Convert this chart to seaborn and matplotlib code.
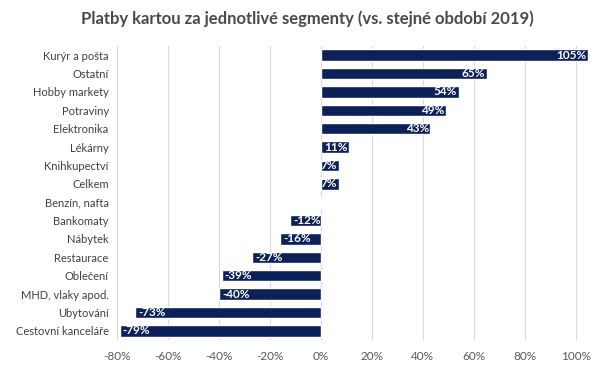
import matplotlib
matplotlib.use("Agg")
import matplotlib.pyplot as plt
import seaborn as sns
import pandas as pd
from matplotlib.ticker import FuncFormatter

categories = ["Kurýr a pošta", "Ostatní", "Hobby markety", "Potraviny", "Elektronika",
              "Lékárny", "Knihkupectví", "Celkem", "Benzín, nafta", "Bankomaty",
              "Nábytek", "Restaurace", "Oblečení", "MHD, vlaky apod.", "Ubytování",
              "Cestovní kanceláře"]
values = [105, 65, 54, 49, 43, 11, 7, 7, -0.4, -12, -16, -27, -39, -40, -73, -79]
labels = ["105%", "65%", "54%", "49%", "43%", "11%", "7%", "7%", "", "-12%", "-16%",
          "-27%", "-39%", "-40%", "-73%", "-79%"]
xticks = [-80, -60, -40, -20, 0, 20, 40, 60, 80, 100]
title = "Platby kartou za jednotlivé segmenty (vs. stejné období 2019)"

sns.set_theme(style="white")
plt.rcParams['font.family'] = ['Lato', 'DejaVu Sans']

df = pd.DataFrame({"cat": categories, "val": values})
fig = plt.figure(figsize=(6.14, 3.8), dpi=100)
ax = fig.add_axes([0.1906, 0.105, 0.772, 0.774])
navy = "#0c2157"
sns.barplot(data=df, x="val", y="cat", orient="h", color=navy, width=0.62,
            saturation=1, ax=ax, zorder=3)
ax.set_xlim(-80, 106)
ax.set_xticks(xticks)
ax.xaxis.set_major_formatter(FuncFormatter(lambda v, p: f"{int(v)}%"))
ax.grid(axis="x", color="#d9d9d9", linewidth=0.8, zorder=0)
ax.grid(axis="y", visible=False)
for s in ax.spines.values():
    s.set_visible(False)
ax.set_xlabel("")
ax.set_ylabel("")
ax.tick_params(axis="x", labelsize=8.5, colors="#595959", length=0, pad=8)
ax.tick_params(axis="y", labelsize=8, colors="#404040", length=0, pad=6)

for i, (v, lab) in enumerate(zip(values, labels)):
    if not lab:
        continue
    if v >= 0:
        ax.text(v - 0.6, i, lab, ha="right", va="center", color="white",
                fontsize=8.5, fontweight="bold", zorder=4)
    else:
        ax.text(v + 1.2, i, lab, ha="left", va="center", color="white",
                fontsize=8.5, fontweight="bold", zorder=4)

fig.text(0.5, 0.95, title, ha="center", va="center", fontsize=12,
         fontweight="bold", color="#4a4a4a")
fig.savefig("out.png", dpi=100)
